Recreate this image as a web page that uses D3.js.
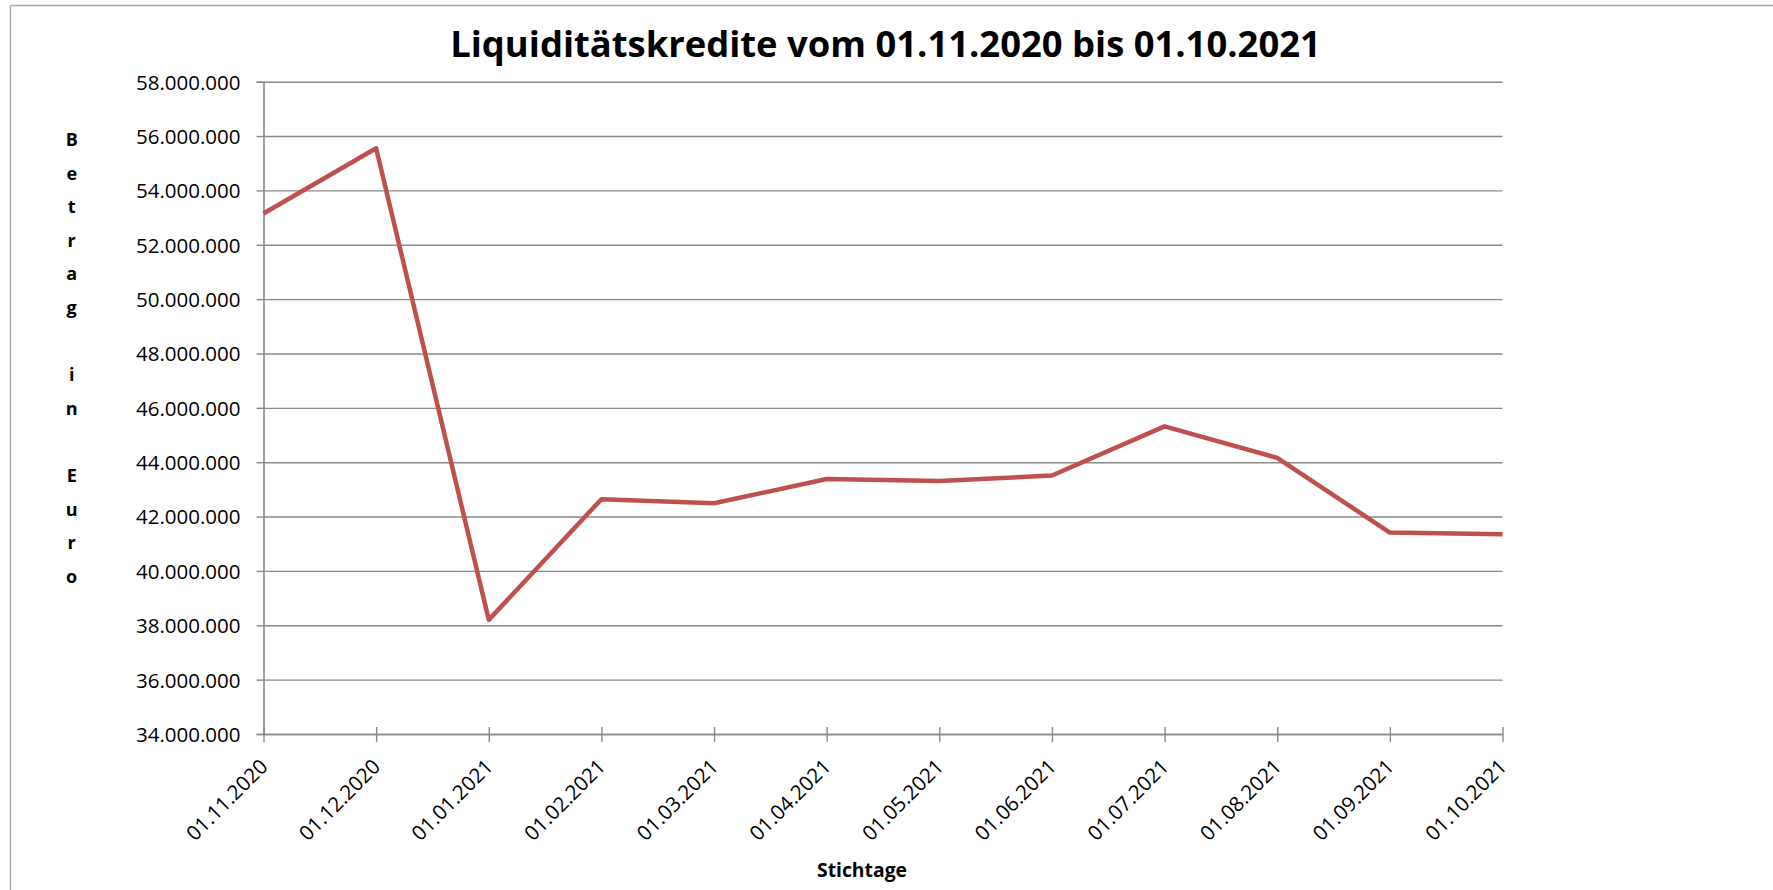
<!DOCTYPE html>
<html>
<head>
<meta charset="utf-8">
<script src="https://cdn.jsdelivr.net/npm/d3@7"></script>
<style>
    body { margin: 0; background: #ffffff; }
    #chart { width: 1773px; height: 890px; }
</style>
</head>
<body>
<div id="chart"></div>
<script>
var chart_title = "Liquiditätskredite vom 01.11.2020 bis 01.10.2021";
var y_axis_title = "Betrag in Euro";
var x_axis_title = "Stichtage";

var stichtage = ["01.11.2020", "01.12.2020", "01.01.2021", "01.02.2021", "01.03.2021", "01.04.2021",
                 "01.05.2021", "01.06.2021", "01.07.2021", "01.08.2021", "01.09.2021", "01.10.2021"];
var betraege = [53150000, 55550000, 38200000, 42640000, 42490000, 43380000,
                43310000, 43510000, 45320000, 44160000, 41410000, 41350000];
var y_ticks = [34000000, 36000000, 38000000, 40000000, 42000000, 44000000,
               46000000, 48000000, 50000000, 52000000, 54000000, 56000000, 58000000];

var font_family = "'Open Sans', 'Liberation Sans', sans-serif";
var grid_colour = "#8a8a8a";

var german = d3.formatLocale({decimal: ",", thousands: ".", grouping: [3], currency: ["", " €"]});
var format_betrag = german.format(",d");

draw_chart();

function draw_chart()
{
    var width = 1773;
    var height = 890;

    var plot_left = 263.5;
    var plot_right = 1502.5;
    var plot_top = 81.7;
    var plot_bottom = 734;

    var svg = d3.select("#chart").append("svg")
                .attr("width", width)
                .attr("height", height)
                .style("font-family", font_family);

    // frame of the chart area, only top and left edge are visible
    svg.append("line")
       .attr("x1", 10.5).attr("y1", 5.5).attr("x2", width).attr("y2", 5.5)
       .attr("stroke", "#a6a6a6").attr("stroke-width", 1.3);
    svg.append("line")
       .attr("x1", 10.5).attr("y1", 5.5).attr("x2", 10.5).attr("y2", height)
       .attr("stroke", "#a6a6a6").attr("stroke-width", 1.3);

    var x = d3.scalePoint()
              .domain(stichtage)
              .range([plot_left, plot_right]);

    var y = d3.scaleLinear()
              .domain([d3.min(y_ticks), d3.max(y_ticks)])
              .range([plot_bottom, plot_top]);

    // horizontal gridlines
    var grid = svg.append("g")
                  .attr("transform", "translate(" + plot_left + ",0)")
                  .call(d3.axisLeft(y).tickValues(y_ticks).tickSize(-(plot_right - plot_left)).tickFormat(""));
    grid.select(".domain").remove();
    grid.selectAll("line").attr("stroke", grid_colour).attr("stroke-width", 1.4);

    // y axis with labels
    var y_axis = svg.append("g")
                    .attr("transform", "translate(" + plot_left + ",0)")
                    .call(d3.axisLeft(y).tickValues(y_ticks).tickSize(7).tickPadding(16).tickFormat(format_betrag))
                    .attr("font-family", null)
                    .attr("font-size", null);
    y_axis.select(".domain").attr("stroke", grid_colour).attr("stroke-width", 1.6);
    y_axis.selectAll(".tick line").attr("stroke", grid_colour).attr("stroke-width", 1.4);
    y_axis.selectAll(".tick text")
          .attr("fill", "#000000")
          .style("font-size", "20.5px")
          .attr("dy", "0.36em");

    // x axis with crossing ticks and rotated labels
    var x_axis = svg.append("g")
                    .attr("transform", "translate(0," + plot_bottom + ")")
                    .call(d3.axisBottom(x).tickSize(7).tickSizeOuter(0))
                    .attr("font-family", null)
                    .attr("font-size", null);
    x_axis.select(".domain").attr("stroke", grid_colour).attr("stroke-width", 1.6);
    x_axis.selectAll(".tick line")
          .attr("y1", -7)
          .attr("y2", 8)
          .attr("stroke", grid_colour)
          .attr("stroke-width", 1.4);
    x_axis.selectAll(".tick text")
          .attr("fill", "#000000")
          .style("font-size", "20.5px")
          .attr("text-anchor", "end")
          .attr("dy", null)
          .attr("y", 0)
          .attr("transform", "translate(5,34) rotate(-45)");

    // the series
    var line = d3.line()
                 .x(function (d, i) { return x(stichtage[i]); })
                 .y(function (d) { return y(d); });

    svg.append("path")
       .datum(betraege)
       .attr("d", line)
       .attr("fill", "none")
       .attr("stroke", "#c0504d")
       .attr("stroke-width", 4.5)
       .attr("stroke-linejoin", "round");

    // title
    var title = svg.append("text")
                   .attr("x", 885.5)
                   .attr("y", 57)
                   .attr("text-anchor", "middle")
                   .attr("font-weight", "bold")
                   .style("font-size", "34px")
                   .text(chart_title);
    fit_text_width(title, 871, 34);

    // x axis title
    var x_title = svg.append("text")
                     .attr("x", 862)
                     .attr("y", 877)
                     .attr("text-anchor", "middle")
                     .attr("font-weight", "bold")
                     .style("font-size", "21px")
                     .text(x_axis_title);
    fit_text_width(x_title, 90, 21);

    // y axis title, one letter per line
    var letters = y_axis_title.split("");
    var letter_step = 33.6;

    svg.append("g")
       .selectAll("text")
       .data(letters)
       .enter()
       .append("text")
       .attr("x", 71.7)
       .attr("y", function (d, i) { return 146 + i * letter_step; })
       .attr("text-anchor", "middle")
       .attr("font-weight", "bold")
       .style("font-size", "18px")
       .text(function (d) { return d; });
}

function fit_text_width(text_selection, target_width, font_size)
{
    var measured = text_selection.node().getComputedTextLength();
    if (measured > 0)
    {
        text_selection.style("font-size", (font_size * target_width / measured) + "px");
    }
}
</script>
</body>
</html>
